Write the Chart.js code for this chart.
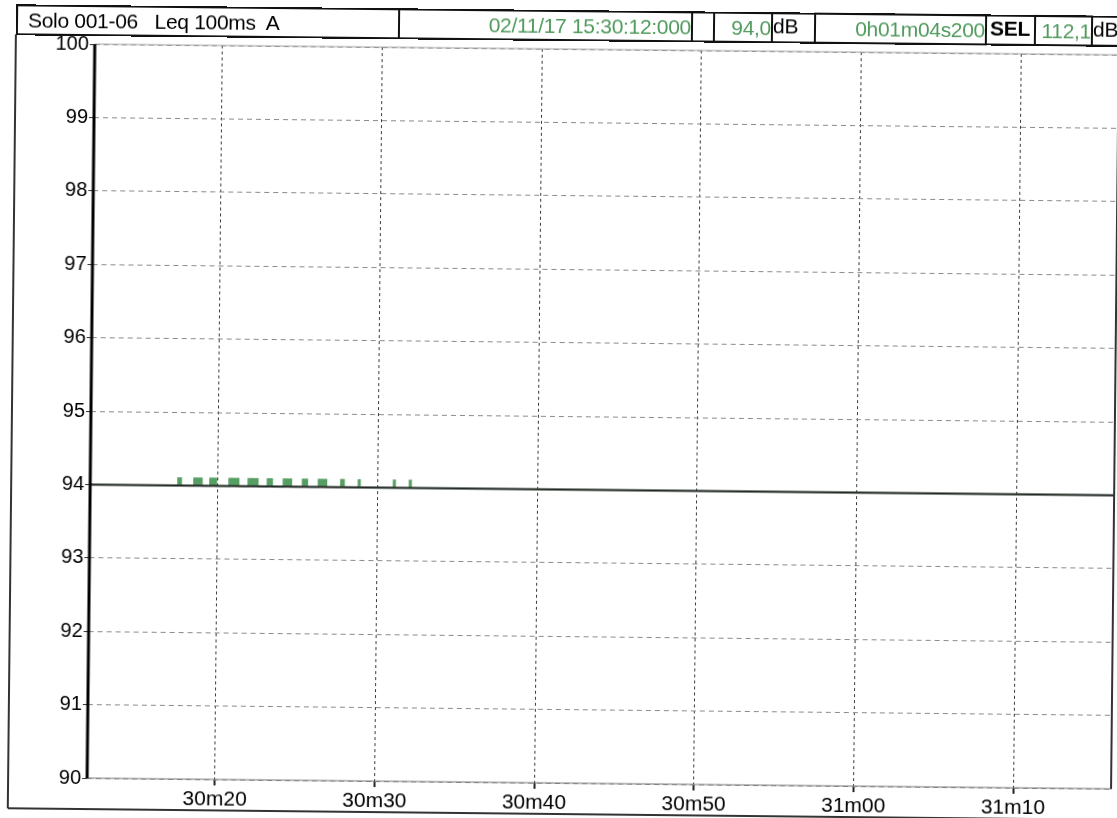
<!DOCTYPE html>
<html><head><meta charset="utf-8">
<script src="https://cdn.jsdelivr.net/npm/chart.js@4.4.1/dist/chart.umd.min.js"></script>
<style>
html,body{margin:0;padding:0;background:#fff;overflow:hidden;width:1117px;height:818px;}
#wrap{position:absolute;left:0;top:0;width:1117px;height:818px;transform:rotate(0.6deg);transform-origin:558px 409px;}
canvas{position:absolute;left:0;top:0;}
.hdr{position:absolute;top:10px;height:31px;box-sizing:border-box;font-family:"Liberation Sans",Arial,sans-serif;font-size:21px;line-height:27px;white-space:nowrap;overflow:hidden;color:#000;letter-spacing:-0.3px;}
.box{border:2px solid #111;background:#fff;}
.g{color:#4f9a5c;text-align:right;padding-right:0px;}
</style></head><body>
<div id="wrap">
<canvas id="c" width="1117" height="818"></canvas>
<div class="hdr" style="left:12px;width:1110px;border-top:2px solid #111;border-bottom:2px solid #111;"></div>
<div class="hdr box" style="left:12px;width:384px;padding-left:10px;">Solo 001-06&nbsp;&nbsp; Leq 100ms&nbsp; A</div>
<div class="hdr box g" style="left:394px;width:295px;">02/11/17 15:30:12:000</div>
<div class="hdr box g" style="left:709px;width:60px;">94,0</div>
<div class="hdr" style="left:769px;width:30px;">dB</div>
<div class="hdr box g" style="left:810px;width:173px;">0h01m04s200</div>
<div class="hdr" style="left:986px;width:44px;font-weight:bold;">SEL</div>
<div class="hdr box g" style="left:1030px;width:59px;">112,1</div>
<div class="hdr" style="left:1089px;width:30px;">dB</div>
</div>
<script>
// Time axis in seconds after 15:30:00 (record starts 15:30:12.0, lasts 1m04.2s)
const timeStart = 12.0;
const timeEnd = 76.2;
const tickValues = [20, 30, 40, 50, 60, 70];
const tickLabels = ["30m20", "30m30", "30m40", "30m50", "31m00", "31m10"];
// Leq 100ms A trace, change points (each level holds until the next time)
const traceTimes = [12.0, 17.5, 17.7, 18.5, 19.0, 19.5, 19.9, 20.7, 21.3, 21.9, 22.5, 23.1, 23.4,
  24.1, 24.6, 25.3, 25.6, 26.3, 26.8, 27.7, 27.9, 28.8, 28.9, 31.0, 31.1, 32.0, 32.1, 76.2];
const traceLevels = [94.0, 94.1, 94.0, 94.1, 94.0, 94.1, 94.0, 94.1, 94.0, 94.1, 94.0, 94.1, 94.0,
  94.1, 94.0, 94.1, 94.0, 94.1, 94.0, 94.1, 94.0, 94.1, 94.0, 94.1, 94.0, 94.1, 94.0, 94.0];
// Overall Leq
const leqOverall = 94.0;
const yMin = 90, yMax = 100;

const green = 'rgb(86,158,98)';
const font = '"Liberation Sans", Arial, sans-serif';

const framePlugin = {
  id: 'frame',
  afterDraw(chart) {
    const ctx = chart.ctx, a = chart.chartArea;
    const line = (x1, y1, x2, y2, c, w) => {
      ctx.beginPath(); ctx.strokeStyle = c; ctx.lineWidth = w; ctx.setLineDash([]);
      ctx.moveTo(x1, y1); ctx.lineTo(x2, y2); ctx.stroke();
    };
    ctx.save();
    line(a.left, a.top, a.right, a.top, '#a0a0a0', 1);
    line(a.left, a.bottom, a.right, a.bottom, '#777', 1.2);
    line(a.right - 1, a.top, a.right - 1, a.bottom, '#333', 2);
    line(a.left, a.top, a.left, a.bottom, '#000', 3);
    line(12, 40, 12, 814, '#333', 2);
    line(12, 814, 1117, 814, '#333', 2);
    ctx.restore();
  }
};

new Chart(document.getElementById('c'), {
  type: 'line',
  data: {
    datasets: [
      {
        label: 'Leq',
        data: [{x: timeStart, y: leqOverall}, {x: timeEnd, y: leqOverall}],
        borderColor: '#262626', borderWidth: 2, pointRadius: 0, fill: false
      },
      {
        label: 'Leq 100ms A',
        data: traceTimes.map((t, i) => ({x: t, y: traceLevels[i]})),
        stepped: 'before',
        borderColor: green, borderWidth: 1.5, pointRadius: 0,
        backgroundColor: green, fill: {value: leqOverall}
      }
    ]
  },
  options: {
    responsive: false, animation: false,
    layout: {padding: {top: 49, right: 1, left: 0, bottom: 0}},
    plugins: {legend: {display: false}, tooltip: {enabled: false}},
    scales: {
      x: {
        type: 'linear', min: timeStart, max: timeEnd,
        afterFit: s => { s.height = 35; },
        afterBuildTicks: s => { s.ticks = tickValues.map(v => ({value: v})); },
        ticks: {
          callback: v => tickLabels[tickValues.indexOf(v)] ?? '',
          color: '#000', font: {family: font, size: 21}, padding: 2, maxRotation: 0, autoSkip: false
        },
        grid: {color: '#3a3a3a', lineWidth: 1, tickLength: 6, tickColor: '#222', tickWidth: 2},
        border: {display: false, dash: [3, 3]}
      },
      y: {
        min: yMin, max: yMax,
        afterFit: s => { s.width = 91; },
        ticks: {stepSize: 1, color: '#000', font: {family: font, size: 20}, padding: 1},
        grid: {color: '#8a8a8a', lineWidth: 1, tickLength: 5, tickColor: '#333', tickWidth: 1},
        border: {display: false, dash: [5, 4]}
      }
    }
  },
  plugins: [framePlugin]
});
</script>
</body></html>
